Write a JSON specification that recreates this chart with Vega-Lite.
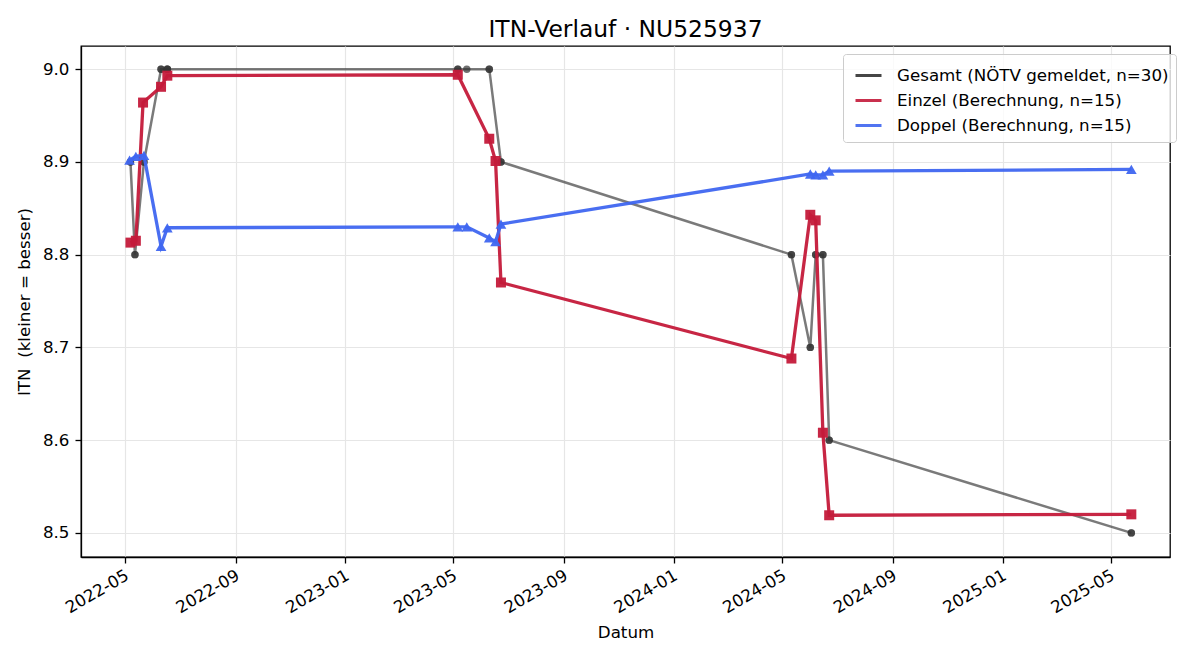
{
  "$schema": "https://vega.github.io/schema/vega-lite/v6.json",
  "width": 1089,
  "height": 511,
  "autosize": "none",
  "padding": {"left": 81, "top": 46, "right": 30, "bottom": 103},
  "background": "white",
  "config": {
    "font": "DejaVu Sans",
    "view": {"stroke": "#000000", "strokeWidth": 1.3},
    "axis": {
      "labelFontSize": 16.7,
      "titleFontSize": 16.7,
      "titleFontWeight": "normal",
      "labelColor": "#000000",
      "titleColor": "#000000",
      "domainColor": "#000000",
      "domainWidth": 1.3,
      "tickColor": "#000000",
      "tickWidth": 1.3,
      "tickSize": 6,
      "gridColor": "#e6e6e6",
      "gridWidth": 1.2,
      "labelOverlap": false,
      "labelFlush": false
    }
  },
  "title": {
    "text": "ITN-Verlauf · NU525937",
    "fontSize": 23.4,
    "fontWeight": "normal",
    "color": "#000000",
    "baseline": "alphabetic",
    "frame": "group",
    "offset": 10,
    "dy": 24
  },
  "data": {
    "values": [
      {"d": "2022-05-07", "itn": 8.9, "s": "G"},
      {"d": "2022-05-07", "itn": 8.9, "s": "G"},
      {"d": "2022-05-12", "itn": 8.8, "s": "G"},
      {"d": "2022-05-12", "itn": 8.8, "s": "G"},
      {"d": "2022-05-22", "itn": 8.9, "s": "G"},
      {"d": "2022-05-22", "itn": 8.9, "s": "G"},
      {"d": "2022-06-10", "itn": 9.0, "s": "G"},
      {"d": "2022-06-10", "itn": 9.0, "s": "G"},
      {"d": "2022-06-17", "itn": 9.0, "s": "G"},
      {"d": "2022-06-17", "itn": 9.0, "s": "G"},
      {"d": "2022-06-17", "itn": 9.0, "s": "G"},
      {"d": "2023-05-06", "itn": 9.0, "s": "G"},
      {"d": "2023-05-06", "itn": 9.0, "s": "G"},
      {"d": "2023-05-16", "itn": 9.0, "s": "G"},
      {"d": "2023-06-10", "itn": 9.0, "s": "G"},
      {"d": "2023-06-10", "itn": 9.0, "s": "G"},
      {"d": "2023-06-23", "itn": 8.9, "s": "G"},
      {"d": "2023-06-23", "itn": 8.9, "s": "G"},
      {"d": "2024-05-11", "itn": 8.8, "s": "G"},
      {"d": "2024-05-11", "itn": 8.8, "s": "G"},
      {"d": "2024-06-01", "itn": 8.7, "s": "G"},
      {"d": "2024-06-01", "itn": 8.7, "s": "G"},
      {"d": "2024-06-07", "itn": 8.8, "s": "G"},
      {"d": "2024-06-07", "itn": 8.8, "s": "G"},
      {"d": "2024-06-15", "itn": 8.8, "s": "G"},
      {"d": "2024-06-15", "itn": 8.8, "s": "G"},
      {"d": "2024-06-22", "itn": 8.6, "s": "G"},
      {"d": "2024-06-22", "itn": 8.6, "s": "G"},
      {"d": "2025-05-24", "itn": 8.5, "s": "G"},
      {"d": "2025-05-24", "itn": 8.5, "s": "G"},

      {"d": "2022-05-07", "itn": 8.813, "s": "E"},
      {"d": "2022-05-13", "itn": 8.815, "s": "E"},
      {"d": "2022-05-21", "itn": 8.964, "s": "E"},
      {"d": "2022-06-10", "itn": 8.981, "s": "E"},
      {"d": "2022-06-17", "itn": 8.993, "s": "E"},
      {"d": "2023-05-06", "itn": 8.994, "s": "E"},
      {"d": "2023-06-10", "itn": 8.925, "s": "E"},
      {"d": "2023-06-17", "itn": 8.901, "s": "E"},
      {"d": "2023-06-23", "itn": 8.770, "s": "E"},
      {"d": "2024-05-11", "itn": 8.688, "s": "E"},
      {"d": "2024-06-01", "itn": 8.843, "s": "E"},
      {"d": "2024-06-07", "itn": 8.837, "s": "E"},
      {"d": "2024-06-15", "itn": 8.608, "s": "E"},
      {"d": "2024-06-22", "itn": 8.519, "s": "E"},
      {"d": "2025-05-24", "itn": 8.520, "s": "E"},

      {"d": "2022-05-06", "itn": 8.902, "s": "D"},
      {"d": "2022-05-13", "itn": 8.906, "s": "D"},
      {"d": "2022-05-22", "itn": 8.907, "s": "D"},
      {"d": "2022-06-10", "itn": 8.809, "s": "D"},
      {"d": "2022-06-17", "itn": 8.829, "s": "D"},
      {"d": "2023-05-06", "itn": 8.830, "s": "D"},
      {"d": "2023-05-16", "itn": 8.830, "s": "D"},
      {"d": "2023-06-10", "itn": 8.818, "s": "D"},
      {"d": "2023-06-17", "itn": 8.814, "s": "D"},
      {"d": "2023-06-23", "itn": 8.833, "s": "D"},
      {"d": "2024-06-01", "itn": 8.887, "s": "D"},
      {"d": "2024-06-07", "itn": 8.886, "s": "D"},
      {"d": "2024-06-15", "itn": 8.886, "s": "D"},
      {"d": "2024-06-22", "itn": 8.890, "s": "D"},
      {"d": "2025-05-24", "itn": 8.892, "s": "D"}
    ]
  },
  "encoding": {
    "x": {
      "field": "d",
      "type": "temporal",
      "title": "Datum",
      "scale": {
        "type": "utc",
        "domain": [
          {"year": 2022, "month": 3, "date": 13, "utc": true},
          {"year": 2025, "month": 7, "date": 6, "utc": true}
        ]
      },
      "axis": {
        "values": [
          {"year": 2022, "month": 5, "date": 1, "utc": true},
          {"year": 2022, "month": 9, "date": 1, "utc": true},
          {"year": 2023, "month": 1, "date": 1, "utc": true},
          {"year": 2023, "month": 5, "date": 1, "utc": true},
          {"year": 2023, "month": 9, "date": 1, "utc": true},
          {"year": 2024, "month": 1, "date": 1, "utc": true},
          {"year": 2024, "month": 5, "date": 1, "utc": true},
          {"year": 2024, "month": 9, "date": 1, "utc": true},
          {"year": 2025, "month": 1, "date": 1, "utc": true},
          {"year": 2025, "month": 5, "date": 1, "utc": true}
        ],
        "labelExpr": "utcFormat(datum.value, '%Y-%m')",
        "labelAngle": -30,
        "labelAlign": "right",
        "labelBaseline": "top",
        "labelPadding": 4,
        "labelOffset": -2,
        "titlePadding": 8
      }
    },
    "y": {
      "field": "itn",
      "type": "quantitative",
      "title": "ITN\u00a0 (kleiner = besser)",
      "scale": {"domain": [8.474, 9.025], "zero": false, "nice": false},
      "axis": {
        "values": [8.5, 8.6, 8.7, 8.8, 8.9, 9.0],
        "format": ".1f",
        "labelPadding": 6,
        "titlePadding": 9
      }
    }
  },
  "layer": [
    {
      "transform": [{"filter": "datum.s == 'G'"}],
      "mark": {"type": "line", "strokeWidth": 2.5, "opacity": 0.65},
      "encoding": {
        "color": {
          "field": "s",
          "type": "nominal",
          "scale": {"domain": ["G", "E", "D"], "range": ["#333333", "#c41a3a", "#3f66f0"]},
          "legend": {
            "title": null,
            "orient": "none",
            "legendX": 762,
            "legendY": 8,
            "values": ["G", "E", "D"],
            "labelExpr": "datum.label == 'G' ? 'Gesamt (NÖTV gemeldet, n=30)' : datum.label == 'E' ? 'Einzel (Berechnung, n=15)' : 'Doppel (Berechnung, n=15)'",
            "labelFont": "DejaVu Sans",
            "labelFontSize": 16.7,
            "labelColor": "#000000",
            "labelLimit": 0,
            "symbolType": "stroke",
            "symbolSize": 676,
            "symbolStrokeWidth": 3,
            "symbolOpacity": 0.9,
            "symbolOffset": 4,
            "labelOffset": 14,
            "rowPadding": 1,
            "padding": 7,
            "fillColor": "rgba(255,255,255,0.8)",
            "strokeColor": "#cccccc",
            "cornerRadius": 3
          }
        }
      }
    },
    {
      "transform": [{"filter": "datum.s == 'G'"}],
      "mark": {"type": "point", "filled": true, "shape": "circle", "size": 55, "opacity": 0.7},
      "encoding": {"color": {"field": "s", "type": "nominal", "legend": null}}
    },
    {
      "transform": [{"filter": "datum.s == 'E'"}],
      "mark": {"type": "line", "strokeWidth": 3.3, "opacity": 0.95},
      "encoding": {"color": {"field": "s", "type": "nominal", "legend": null}}
    },
    {
      "transform": [{"filter": "datum.s == 'E'"}],
      "mark": {"type": "point", "filled": true, "shape": "square", "size": 100, "opacity": 0.95},
      "encoding": {"color": {"field": "s", "type": "nominal", "legend": null}}
    },
    {
      "transform": [{"filter": "datum.s == 'D'"}],
      "mark": {"type": "line", "strokeWidth": 3.3, "opacity": 0.95},
      "encoding": {"color": {"field": "s", "type": "nominal", "legend": null}}
    },
    {
      "transform": [{"filter": "datum.s == 'D'"}],
      "mark": {"type": "point", "filled": true, "shape": "triangle-up", "size": 115, "opacity": 0.95},
      "encoding": {"color": {"field": "s", "type": "nominal", "legend": null}}
    }
  ]
}
